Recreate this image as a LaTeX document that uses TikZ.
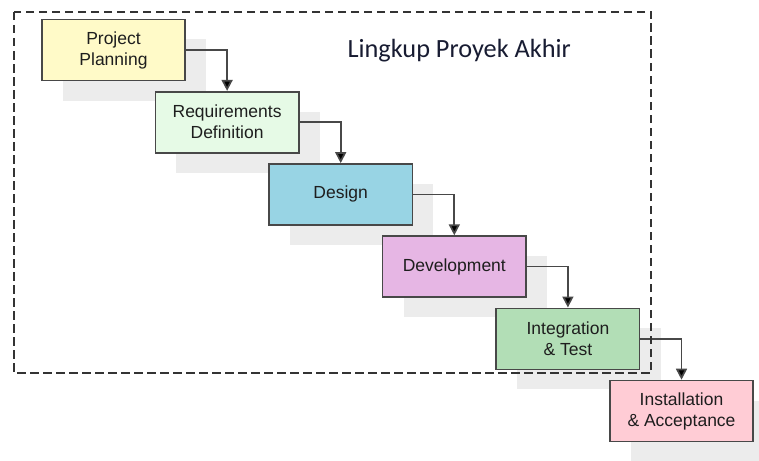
\documentclass[tikz,border=0pt]{standalone}
\usepackage{fontspec}
\setmainfont{Liberation Sans}
\newfontfamily\captionfont{Carlito}
\usepackage{xcolor}
\usetikzlibrary{arrows.meta,shadows}

\definecolor{boxline}{RGB}{72,72,72}
\definecolor{boxtext}{RGB}{30,30,30}
\definecolor{shadowgray}{RGB}{236,236,236}
\definecolor{planyellow}{RGB}{255,250,200}
\definecolor{reqgreen}{RGB}{230,250,230}
\definecolor{designblue}{RGB}{152,212,228}
\definecolor{devviolet}{RGB}{230,182,228}
\definecolor{testgreen}{RGB}{178,222,182}
\definecolor{installpink}{RGB}{255,204,213}
\definecolor{captionblue}{RGB}{24,28,50}

\begin{document}
\begin{tikzpicture}[x=1pt,y=-1pt,node distance=72.2pt,
  phase node/.style={rectangle,draw=boxline,line width=1.6pt,minimum width=143.5pt,minimum height=61pt,
    align=center,text=boxtext,font=\fontsize{17.5}{21}\selectfont,
    drop shadow={shadow xshift=21pt,shadow yshift=-20pt,opacity=1,fill=shadowgray}},
  fall/.style={draw=boxline,line width=1.7pt,-{Triangle[width=11pt,length=11pt]},
    to path={(\tikztostart.east) -| (\tikztotarget.north)}},
  scope frame/.style={draw=black!80,line width=1.8pt,dash pattern=on 8.5pt off 4.5pt}]

  \useasboundingbox (0,0) rectangle (759,460);

  \node[phase node,fill=planyellow]  (1) at (113.5,50) {Project\\Planning};
  \node[phase node,fill=reqgreen]    (2) [below of=1,xshift=113.6pt] {Requirements\\Definition};
  \node[phase node,fill=designblue]  (3) [below of=2,xshift=113.6pt] {Design};
  \node[phase node,fill=devviolet]   (4) [below of=3,xshift=113.6pt] {Development};
  \node[phase node,fill=testgreen]   (5) [below of=4,xshift=113.6pt] {Integration\\\& Test};
  \node[phase node,fill=installpink] (6) [below of=5,xshift=113.6pt] {Installation\\\& Acceptance};

  \path[fall]
    (1) edge (2)
    (2) edge (3)
    (3) edge (4)
    (4) edge (5)
    (5) edge (6);

  % boundary of the final project scope
  \draw[scope frame] (14,12) rectangle (651,373);
  \node[anchor=base west,text=captionblue,font=\captionfont\fontsize{26.3}{30}\selectfont]
    (caption) at (344,57) {Lingkup Proyek Akhir};
\end{tikzpicture}
\end{document}
